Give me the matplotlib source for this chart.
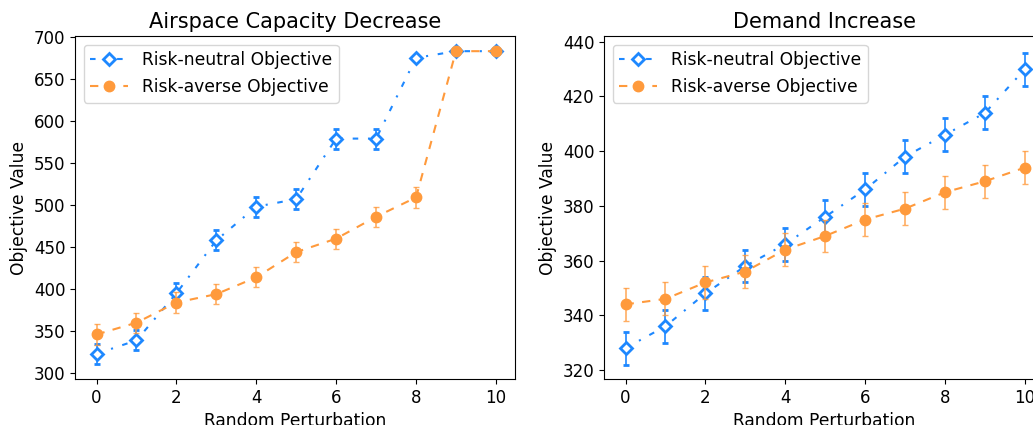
import matplotlib
matplotlib.use("Agg")
import matplotlib.pyplot as plt
import numpy as np

x = list(range(11))

# Airspace Capacity Decrease
cap_neutral = [323, 339, 395, 458, 498, 507, 579, 579, 675, 683, 683]
cap_neutral_err = [12, 12, 12, 12, 12, 12, 12, 12, 3, 3, 3]
cap_averse = [346, 360, 384, 394, 414, 444, 460, 486, 509, 683, 683]
cap_averse_err = [12, 12, 12, 12, 12, 12, 12, 12, 12, 3, 3]

# Demand Increase
dem_neutral = [328, 336, 348, 358, 366, 376, 386, 398, 406, 414, 430]
dem_neutral_err = [6, 6, 6, 6, 6, 6, 6, 6, 6, 6, 6]
dem_averse = [344, 346, 352, 356, 364, 369, 375, 379, 385, 389, 394]
dem_averse_err = [6, 6, 6, 6, 6, 6, 6, 6, 6, 6, 6]

titles = ["Airspace Capacity Decrease", "Demand Increase"]
xlabel = "Random Perturbation"
ylabel = "Objective Value"
labels = ["Risk-neutral Objective", "Risk-averse Objective"]

blue = "#1E88FF"
orange = "#FF9A3C"

plt.rcParams['lines.scale_dashes'] = False

fig = plt.figure(figsize=(10.33, 4.25), dpi=100)
ax1 = fig.add_axes([0.0726, 0.1082, 0.426, 0.807])
ax2 = fig.add_axes([0.5847, 0.1082, 0.426, 0.807])

data = [
    (ax1, cap_neutral, cap_neutral_err, cap_averse, cap_averse_err, (293, 701), [300, 350, 400, 450, 500, 550, 600, 650, 700]),
    (ax2, dem_neutral, dem_neutral_err, dem_averse, dem_averse_err, (316.7, 442.1), [320, 340, 360, 380, 400, 420, 440]),
]

for i, (ax, n, ne, a, ae, yl, yt) in enumerate(data):
    c1 = ax.errorbar(x, n, yerr=ne, color=blue, linestyle="-.", marker="D",
                     markerfacecolor="white", markeredgecolor=blue, markersize=6.5,
                     markeredgewidth=2, capsize=2, elinewidth=1.2, linewidth=1.5,
                     ecolor=blue, label=labels[0], zorder=2)
    c1[0].set_dashes((4, 7, 1.5, 7))
    c2 = ax.errorbar(x, a, yerr=ae, color=orange, linestyle="--", marker="o",
                     markersize=7.5, capsize=2, elinewidth=1.2, linewidth=1.5,
                     ecolor=orange, label=labels[1], zorder=3)
    c2[0].set_dashes((6, 6))
    for bar in list(c2[2]) + list(c2[1]):
        bar.set_alpha(0.8)
    ax.set_xlim(-0.54, 10.48)
    ax.set_ylim(*yl)
    ax.set_yticks(yt)
    ax.set_xticks([0, 2, 4, 6, 8, 10])
    ax.tick_params(labelsize=12)
    ax.set_title(titles[i], fontsize=15)
    ax.set_xlabel(xlabel, fontsize=12.3)
    ax.set_ylabel(ylabel, fontsize=12.3)
    ax.legend([c1[0], c2[0]], labels, loc="upper left", fontsize=12.3,
              numpoints=1, handlelength=2.2)

fig.savefig("out.png", dpi=100)
